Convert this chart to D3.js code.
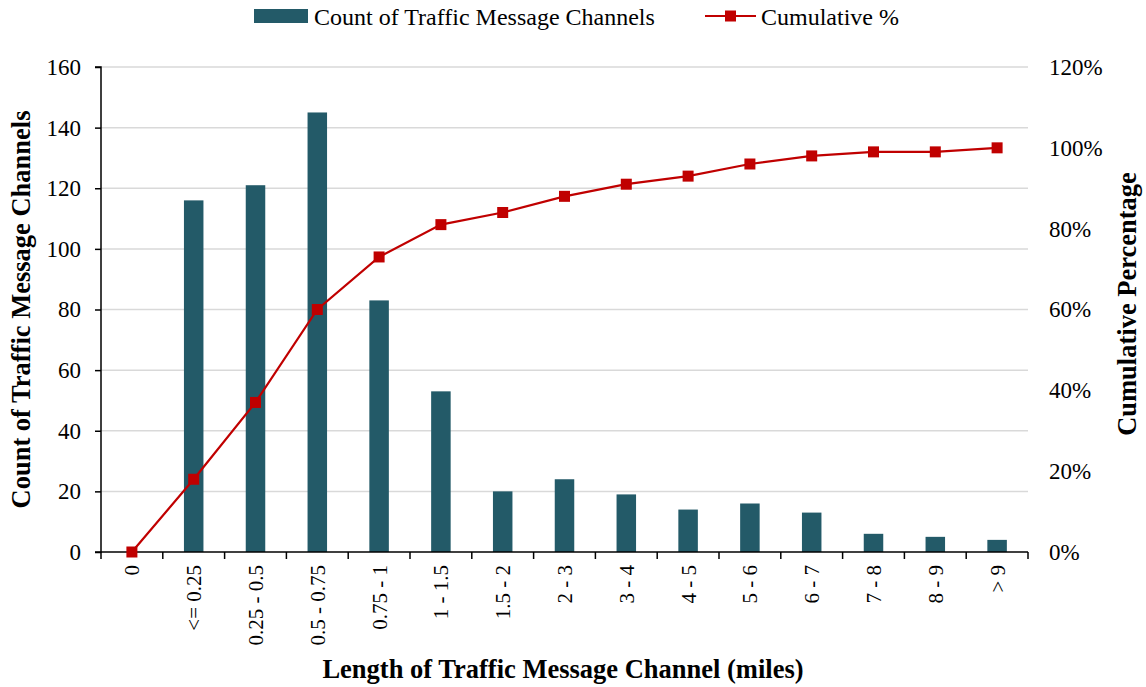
<!DOCTYPE html>
<html>
<head>
<meta charset="utf-8">
<script src="https://cdn.jsdelivr.net/npm/d3@7"></script>
<style>
  body { margin: 0; background: #fff; }
  text { font-family: "Liberation Serif", "Times New Roman", serif; fill: #000; }
</style>
</head>
<body>
<div id="chart"></div>
<script>
'use strict';
// data
var categories = ['0', '<= 0.25', '0.25 - 0.5', '0.5 - 0.75', '0.75 - 1', '1 - 1.5', '1.5 - 2',
  '2 - 3', '3 - 4', '4 - 5', '5 - 6', '6 - 7', '7 - 8', '8 - 9', '> 9'];
var counts = [0, 116, 121, 145, 83, 53, 20, 24, 19, 14, 16, 13, 6, 5, 4];
var cumulative = [0, 18, 37, 60, 73, 81, 84, 88, 91, 93, 96, 98, 99, 99, 100];
var countTicks = [0, 20, 40, 60, 80, 100, 120, 140, 160];
var pctTicks = [0, 20, 40, 60, 80, 100, 120];

var W = 1146, H = 687;
var margin = {top: 67, right: 118, bottom: 135, left: 101},
    width = W - margin.left - margin.right,
    height = H - margin.top - margin.bottom;

var barColor = '#235a68', lineColor = '#c00000';
var tickFont = '23px', xTickFont = '21px', titleFont = '26.5px', legendFont = '24px';

var svg = d3.select('#chart').append('svg')
    .attr('width', W)
    .attr('height', H);

var g = svg.append('g')
    .attr('transform', 'translate(' + margin.left + ',' + margin.top + ')');

// scales
var x = d3.scaleBand().domain(categories).range([0, width]).padding(0);
var y = d3.scaleLinear().domain([0, 160]).range([height, 0]);
var y2 = d3.scaleLinear().domain([0, 120]).range([height, 0]);

// gridlines
g.selectAll('.grid')
    .data(countTicks.slice(1))
  .enter().append('line')
    .attr('x1', 0).attr('x2', width)
    .attr('y1', function(d) { return y(d); })
    .attr('y2', function(d) { return y(d); })
    .attr('stroke', '#d9d9d9')
    .attr('stroke-width', 1.5);

// bars
var barW = 19.5;
g.selectAll('.bar')
    .data(counts)
  .enter().append('rect')
    .attr('x', function(d, i) { return x(categories[i]) + x.bandwidth() / 2 - barW / 2; })
    .attr('width', barW)
    .attr('y', function(d) { return y(d); })
    .attr('height', function(d) { return height - y(d); })
    .attr('fill', barColor);

// left axis
var yAxis = g.append('g')
    .call(d3.axisLeft(y).tickValues(countTicks).tickSize(6).tickPadding(14));
yAxis.select('.domain').attr('stroke', '#000').attr('stroke-width', 1.5)
    .attr('d', 'M-6,0H0V' + height + 'H-6');
yAxis.selectAll('.tick line').attr('stroke', '#000').attr('stroke-width', 1.5);
yAxis.selectAll('text').style('font-size', tickFont).style('font-family', '"Liberation Serif", serif');

// right axis (labels only)
var y2Axis = g.append('g')
    .attr('transform', 'translate(' + width + ',0)')
    .call(d3.axisRight(y2).tickValues(pctTicks).tickSize(0).tickPadding(21)
      .tickFormat(function(d) { return d + '%'; }));
y2Axis.select('.domain').remove();
y2Axis.selectAll('text').style('font-size', tickFont).style('font-family', '"Liberation Serif", serif');

// bottom axis with ticks at band edges
var xAxis = g.append('g')
    .attr('transform', 'translate(0,' + height + ')');
xAxis.append('line')
    .attr('x1', 0).attr('x2', width)
    .attr('stroke', '#000').attr('stroke-width', 1.5);
xAxis.selectAll('.xtick')
    .data(categories.concat(['end']))
  .enter().append('line')
    .attr('x1', function(d, i) { return i * x.step(); })
    .attr('x2', function(d, i) { return i * x.step(); })
    .attr('y1', 0).attr('y2', 7)
    .attr('stroke', '#000').attr('stroke-width', 1.5);
xAxis.selectAll('.xlabel')
    .data(categories)
  .enter().append('text')
    .attr('transform', function(d) {
      return 'translate(' + (x(d) + x.bandwidth() / 2 + 7.5) + ',13) rotate(-90)';
    })
    .attr('text-anchor', 'end')
    .style('font-size', xTickFont)
    .text(function(d) { return d; });

// cumulative line
var line = d3.line()
    .x(function(d, i) { return x(categories[i]) + x.bandwidth() / 2; })
    .y(function(d) { return y2(d); });

g.append('path')
    .datum(cumulative)
    .attr('d', line)
    .attr('fill', 'none')
    .attr('stroke', lineColor)
    .attr('stroke-width', 2.2);

var ms = 11;
g.selectAll('.marker')
    .data(cumulative)
  .enter().append('rect')
    .attr('x', function(d, i) { return x(categories[i]) + x.bandwidth() / 2 - ms / 2; })
    .attr('y', function(d) { return y2(d) - ms / 2; })
    .attr('width', ms).attr('height', ms)
    .attr('fill', lineColor);

// axis titles
svg.append('text')
    .attr('transform', 'translate(30,' + (margin.top + height / 2) + ') rotate(-90)')
    .attr('text-anchor', 'middle')
    .style('font-size', titleFont).style('font-weight', 'bold')
    .text('Count of Traffic Message Channels');

svg.append('text')
    .attr('transform', 'translate(1136,304) rotate(-90)')
    .attr('text-anchor', 'middle')
    .style('font-size', titleFont).style('font-weight', 'bold')
    .text('Cumulative Percentage');

svg.append('text')
    .attr('x', 563)
    .attr('y', 678)
    .attr('text-anchor', 'middle')
    .style('font-size', titleFont).style('font-weight', 'bold')
    .text('Length of Traffic Message Channel (miles)');

// legend
var legend = svg.append('g');
legend.append('rect')
    .attr('x', 254).attr('y', 9).attr('width', 54).attr('height', 14)
    .attr('fill', barColor);
legend.append('text')
    .attr('x', 314).attr('y', 25)
    .style('font-size', legendFont)
    .text('Count of Traffic Message Channels');
legend.append('line')
    .attr('x1', 705).attr('x2', 756).attr('y1', 16).attr('y2', 16)
    .attr('stroke', lineColor).attr('stroke-width', 2.2);
legend.append('rect')
    .attr('x', 725).attr('y', 10.5).attr('width', ms).attr('height', ms)
    .attr('fill', lineColor);
legend.append('text')
    .attr('x', 761).attr('y', 25)
    .style('font-size', legendFont)
    .text('Cumulative %');
</script>
</body>
</html>
